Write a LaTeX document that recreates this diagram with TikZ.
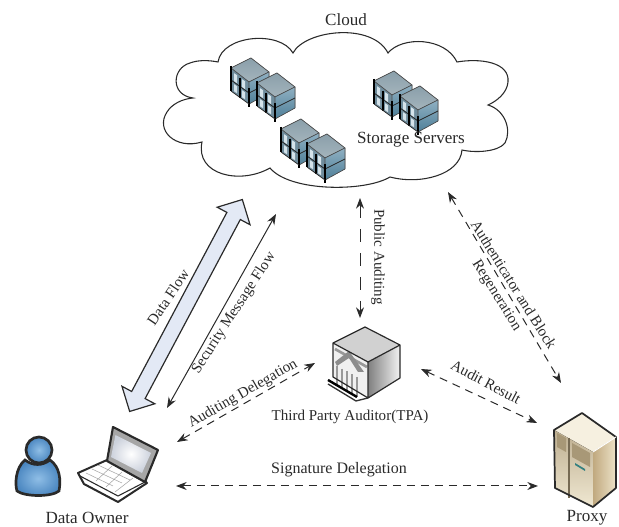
\documentclass[tikz,border=0pt]{standalone}
\usepackage{fontspec}
\setmainfont{Liberation Serif}
\usetikzlibrary{arrows.meta,shapes.arrows}
\definecolor{ink}{HTML}{2A2A2A}
\definecolor{srvtop}{HTML}{8A9FAA}
\definecolor{srvtopb}{HTML}{A4B4BC}
\definecolor{srvleft}{HTML}{6F8C9C}
\definecolor{srvstrip}{HTML}{D5E3EA}
\definecolor{srvr}{HTML}{8FB0C2}
\definecolor{srvrb}{HTML}{4F8099}
\definecolor{pplight}{HTML}{8FBEE6}
\definecolor{ppdark}{HTML}{4A86C0}
\definecolor{flow}{HTML}{E3E9F5}
\definecolor{pxtop}{HTML}{F6F0E0}
\definecolor{pxa}{HTML}{BDAE90}
\definecolor{pxb}{HTML}{F0E8D2}
\definecolor{pxc}{HTML}{C0A97F}
\definecolor{pxd}{HTML}{EDE2C8}
\definecolor{pxvent}{HTML}{A89877}
\tikzset{
 lbl/.style={font=\fontsize{11.3}{14.25}\selectfont,text=ink,inner sep=0pt,align=center},
 biglbl/.style={lbl,font=\fontsize{12.8}{14.25}\selectfont},
 thinarrow/.style={draw=ink,line width=0.75pt,{Stealth[length=8pt,width=6pt]}-{Stealth[length=8pt,width=6pt]}},
 dasharrow/.style={thinarrow,dash pattern=on 6pt off 4.5pt},
 longdash/.style={thinarrow,dash pattern=on 10pt off 8pt},
 rackunit/.pic={
  \fill[top color=srvtop,bottom color=srvtopb] (20,0) -- (38,14) -- (18,24) -- (0,10) -- cycle;
  \fill[srvleft] (0,10) -- (18,24) -- (18,46) -- (0,33) -- cycle;
  \fill[top color=srvr,bottom color=srvrb] (18,24) -- (38,14) -- (38,35) -- (18,46) -- cycle;
  \foreach \a in {3,11}{\fill[srvstrip] (\a,13+0.75*\a) -- ++(3,2) -- ++(0,8) -- ++(-3,-2) -- cycle;
   \fill[srvstrip] (\a,24+0.75*\a) -- ++(3,2) -- ++(0,7) -- ++(-3,-2) -- cycle;}
  \draw[black!70,line width=0.5pt,line join=round] (0,10) -- (20,0) -- (38,14) -- (18,24) -- cycle;
  \draw[black!70,line width=0.5pt] (38,14) -- (38,35) -- (18,46) -- (18,24);
  \draw[black!85,line width=0.6pt] (0,22) -- (18,35) -- (38,25);
  \draw[black,line width=1.1pt] (0,8) -- (0,33) (18,30) -- (18,49) (9,20) -- (9,40);
  \draw[black!85,line width=0.55pt] (0,33) -- (18,46);
 },
 servergroup/.pic={
  \pic at (0,0) {rackunit};
  \pic at (26,15) {rackunit};
 }
}
\begin{document}
\begin{tikzpicture}[x=0.75pt,y=-0.75pt]
\useasboundingbox (0,0) rectangle (619,527);
% cloud
\draw[fill=white,draw=ink,line width=0.8pt,line join=miter]
 (293,53) .. controls (305,30) and (372,22) .. (388,53)
 .. controls (402,36) and (445,37) .. (457,62)
 .. controls (480,58) and (510,62) .. (508,82) .. controls (507,93) and (497,101) .. (488,105)
 .. controls (505,110) and (512,130) .. (505,143) .. controls (498,152) and (475,153) .. (462,150)
 .. controls (460,175) and (420,185) .. (390,177)
 .. controls (365,192) and (290,192) .. (270,168)
 .. controls (240,185) and (195,175) .. (202,142)
 .. controls (175,150) and (155,130) .. (167,112) .. controls (172,104) and (182,99) .. (193,98)
 .. controls (170,95) and (172,68) .. (190,63) .. controls (198,60) and (208,60) .. (218,62)
 .. controls (222,35) and (280,30) .. (293,53) -- cycle;
\pic at (231,58) {servergroup};
\pic at (374,71) {servergroup};
\pic at (281,119) {servergroup};
\node[biglbl] (cloudlabel) at (346,20) {Cloud};
\node[biglbl] (storagelabel) at (411,140) {Storage Servers};
% person
\node[inner sep=0pt,minimum size=0pt] (owner) at (38,475) {};
\draw[line width=2pt,draw=ink,inner color=pplight,outer color=ppdark]
 (25,460) .. controls (15,468) and (15,485) .. (17,491) .. controls (25,497) and (52,497) .. (59,491) .. controls (61,480) and (60,467) .. (50,460) .. controls (42,466) and (33,466) .. (25,460) -- cycle;
\draw[line width=2pt,draw=ink,inner color=pplight,outer color=ppdark] (39,450) circle (13);
% laptop
\node[inner sep=0pt,minimum size=0pt] (laptop) at (115,470) {};
\draw[line width=1.5pt,draw=ink,fill=white,line join=round] (78,473) -- (107,460) -- (147,483) -- (118,502) -- (84,484) -- cycle;
\draw[line width=0.4pt,draw=black!35] (86,473) -- (113,486) (92,469) -- (122,483) (98,465) -- (130,480) (96,481) -- (112,466) (106,487) -- (122,472) (115,492) -- (133,478);
\draw[line width=0.8pt,draw=ink] (80,476) -- (118,496) -- (147,481);
\draw[line width=1.6pt,draw=ink,fill=black!35,line join=round] (113,427) -- (158,450) -- (145,482) -- (107,461) -- cycle;
\shade[inner color=white,outer color=flow!90!black] (115.5,435) -- (151,453) -- (142,473) -- (111,457) -- cycle;
% TPA
\node[inner sep=0pt,minimum size=0pt] (tpa) at (368,362) {};
\fill[black!18] (365,327) -- (400,345) -- (368,362) -- (333,343) -- cycle;
\shade[left color=black!50,right color=black!5] (368,362) -- (400,345) -- (400,378) -- (368,398) -- cycle;
\fill[black!6] (333,343) -- (368,362) -- (368,398) -- (333,377) -- cycle;
\draw[black!40,line width=2pt] (335,349) -- (367,367);
\fill[black!45] (335,362) -- (349,351) -- (364,372) -- (358,372) -- (349,358) -- (337,366) -- cycle;
\foreach \a in {337,342,347,352,357}{\draw[black!40,line width=1.4pt] (\a,{366+(\a-337)*0.55}) -- ++(0,20);}
\draw[draw=ink,line width=0.9pt,line join=round] (365,327) -- (400,345) -- (400,378) -- (368,398) -- (333,377) -- (333,343) -- cycle (333,343) -- (368,362) -- (400,345) (368,362) -- (368,398);
\draw[black,line width=1.8pt] (328,380) -- (357,397);
\draw[black!80,line width=1pt] (328,384) -- (356,401) -- (368,398);
% proxy
\node[inner sep=0pt,minimum size=0pt] (proxy) at (586,460) {};
\fill[pxtop] (582,413) -- (616,437) -- (593,452) -- (554,430) -- cycle;
\fill[top color=pxa,bottom color=pxb] (554,430) -- (593,452) -- (593,507) -- (555,488) -- cycle;
\fill[left color=pxc,right color=pxd] (593,452) -- (616,437) -- (616,488) -- (593,507) -- cycle;
\fill[pxvent] (557,433) -- (566,438) -- (566,452) -- (557,447) -- cycle (572,443) -- (590,453) -- (590,467) -- (572,457) -- cycle;
\draw[pxvent!70!black,line width=0.8pt] (569,438) -- (569,498);
\fill[teal!60!gray] (575,463) -- (585,469) -- (585,471) -- (575,465) -- cycle;
\draw[draw=ink,line width=1.3pt,line join=round] (582,413) -- (616,437) -- (616,488) -- (593,507) -- (555,488) -- (554,430) -- cycle;
\draw[white,line width=0.7pt] (593,452) -- (616,437);
% labels
\node[biglbl] (ownerlabel) at (87,518) {Data Owner};
\node[biglbl] (proxylabel) at (587,518) {Proxy};
\node[lbl] (tpalabel) at (350,417) {Third Party Auditor(TPA)};
% arrow end points
\coordinate (smA) at (276,214); \coordinate (smB) at (167,408);
\coordinate (adA) at (177,442); \coordinate (adB) at (315,363);
\coordinate (sdA) at (176,486); \coordinate (sdB) at (538,486);
\coordinate (arA) at (421,369); \coordinate (arB) at (537,423);
\coordinate (paA) at (360,198); \coordinate (paB) at (360,318);
\coordinate (auA) at (448,192); \coordinate (auB) at (561,383);
% big arrow
\node[double arrow,draw=ink,fill=flow,line width=0.9pt,rotate=62,inner sep=5.25pt,
 double arrow head extend=8.25pt,minimum height=180pt,double arrow tip angle=90] (dataflow) at (186,305.5) {};
\draw[thinarrow] (smA) -- (smB);
\draw[dasharrow] (adA) -- (adB);
\draw[dasharrow] (sdA) -- (sdB);
\draw[dasharrow] (arA) -- (arB);
\draw[longdash] (paA) -- (paB);
\draw[dasharrow] (auA) -- (auB);
\node[lbl,rotate=56] (dflabel) at (168,297) {Data Flow};
\node[lbl,rotate=57] (smlabel) at (234,313) {Security Message Flow};
\node[lbl,rotate=30] (adlabel) at (243,394) {Auditing Delegation};
\node[lbl,font=\fontsize{12}{14}\selectfont] (sdlabel) at (339,470) {Signature Delegation};
\node[lbl,rotate=-28] (arlabel) at (486,382) {Audit Result};
\node[lbl,rotate=-90] (palabel) at (378,257) {Public Auditing};
\node[lbl,rotate=-58] (aulabel) at (504.5,290.5) {Authenticator and Block\\Regeneration};
\end{tikzpicture}
\end{document}
